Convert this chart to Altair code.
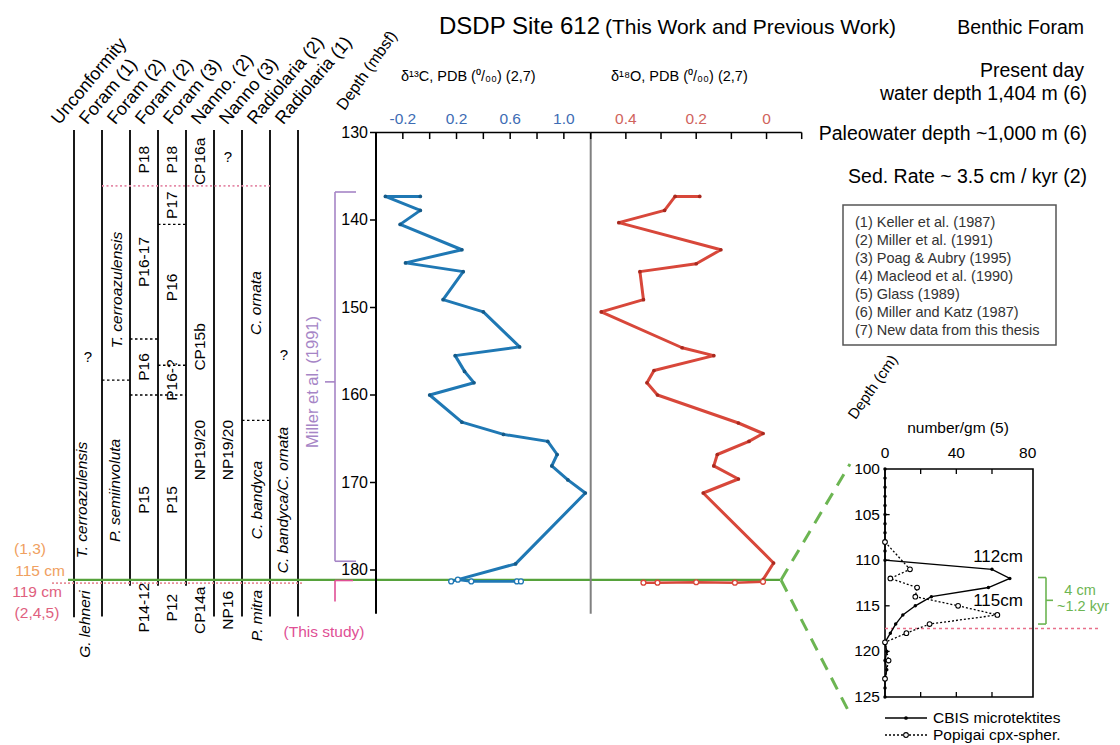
import altair as alt
import pandas as pd

FONT = "Liberation Sans"

BLUE, BLUE_DOT, BLUE_TXT = "#1f78b4", "#155a88", "#3d6cb4"
RED, RED_DOT, RED_TXT = "#d8473a", "#a8291f", "#d0635c"
GREEN, GREEN_DASH = "#56a23b", "#6cb552"
PURPLE, MAGENTA = "#a685c6", "#e04f95"
ORANGE, PINK = "#f0a060", "#e0607e"

# ---------------- benthic foram isotopes, DSDP Site 612 ----------------
c13_depth = [137.3, 137.3, 138.9, 140.5, 143.4, 144.9, 145.9, 149.1, 150.5, 154.5,
             155.5, 157.3, 158.6, 160.0, 163.1, 164.5, 165.3, 166.8, 168.1, 169.7,
             171.2, 179.3, 181.1]
c13_value = [-0.07, -0.33, -0.07, -0.22, 0.24, -0.18, 0.25, 0.10, 0.40, 0.67,
             0.19, 0.26, 0.33, 0.00, 0.24, 0.55, 0.88, 0.95, 0.91, 1.03,
             1.16, 0.64, 0.21]
c13_new_depth = [181.3, 181.1, 181.3, 181.3, 181.3]
c13_new_value = [0.16, 0.21, 0.31, 0.65, 0.68]

o18_depth = [137.3, 137.3, 138.9, 140.3, 143.4, 145.0, 145.9, 149.1, 150.5, 154.6,
             155.5, 157.2, 158.6, 160.0, 163.2, 164.4, 165.3, 166.8, 168.1, 169.6,
             171.2, 179.2, 181.1]
o18_value = [0.19, 0.26, 0.29, 0.42, 0.13, 0.20, 0.36, 0.35, 0.47, 0.24,
             0.15, 0.32, 0.34, 0.31, 0.08, 0.01, 0.05, 0.14, 0.15, 0.08,
             0.18, -0.02, 0.01]
o18_new_depth = [181.45, 181.45, 181.4, 181.45, 181.35]
o18_new_value = [0.35, 0.31, 0.20, 0.09, 0.01]

# ---------------- spherule abundance (number/gm) in the core ----------------
cbis_depth = [100, 101, 102, 103, 104, 105, 106, 107, 108, 109, 110, 111, 112, 113,
              114, 115, 116, 117, 118, 119, 120, 121, 122, 123, 124, 125]
cbis_count = [0, 0, 0, 0, 0, 0, 0, 0, 0, 0, 0, 60, 70, 58,
              26, 17, 10, 6, 3, 0, 1, 0, 1, 0, 0, 0]
popigai_depth = [108, 111, 112, 113, 114, 115, 116, 117, 118, 119, 121, 123]
popigai_count = [0, 14, 3, 18, 17, 41, 63, 25, 12, 0, 2, 0]

# ---------------- biostratigraphy ----------------
col_edge = [0, 1, 2, 3, 4, 5, 6, 7, 8]
col_top = [129.7] * 9
col_bottom = [185.4, 185.3, 181.8, 181.8, 181.8, 185.3, 185.3, 185.3, 185.3]
headers = ["Unconformity", "Foram (1)", "Foram (2)", "Foram (2)", "Foram (3)",
           "Nanno. (2)", "Nanno (3)", "Radiolaria (2)", "Radiolaria (1)"]

zone_text = ["P18", "P16-17", "P16", "P15", "P14-12",
             "P18", "P17", "P16", "P16-?", "P15", "P12",
             "CP16a", "CP15b", "NP19/20", "CP14a",
             "NP19/20", "NP16"]
zone_col = [2.5, 2.5, 2.5, 2.5, 2.5,
            3.5, 3.5, 3.5, 3.5, 3.5, 3.5,
            4.5, 4.5, 4.5, 4.5,
            5.5, 5.5]
zone_depth = [133.1, 144.8, 156.8, 172.0, 184.3,
              133.1, 138.3, 147.7, 158.3, 172.0, 184.3,
              133.3, 154.5, 166.3, 184.6,
              166.3, 184.6]

taxon_text = ["T. cerroazulensis", "G. lehneri", "T. cerroazulensis", "P. semiinvoluta",
              "C. ornata", "C. bandyca", "P. mitra", "C. bandyca/C. ornata"]
taxon_col = [0.28, 0.4, 1.55, 1.45, 6.5, 6.55, 6.55, 7.45]
taxon_depth = [172.0, 186.2, 148.0, 170.9, 149.5, 172.0, 185.2, 172.0]

query_col = [0.5, 5.5, 7.5]
query_depth = [155.7, 132.8, 155.4]

bound_from = [2, 3, 3, 1, 2, 6]
bound_to = [3, 4, 4, 2, 4, 7]
bound_depth = [153.6, 140.5, 156.6, 158.3, 160.0, 162.9]

# ---------------- axes ----------------
depth_ticks = [130, 140, 150, 160, 170, 180]
c13_ticks = [-0.4, -0.2, 0.0, 0.2, 0.4, 0.6, 0.8, 1.0, 1.2]
c13_labels = [-0.2, 0.2, 0.6, 1.0]
c13_label_text = ["-0.2", "0.2", "0.6", "1.0"]
o18_ticks = [0.4, 0.3, 0.2, 0.1, 0.0, -0.1]
o18_labels = [0.4, 0.2, 0.0]
o18_label_text = ["0.4", "0.2", "0"]
inset_x_ticks = [20, 40, 60]
inset_x_labels = [0, 40, 80]
inset_y_ticks = [105, 110, 115, 120]
inset_y_labels = [100, 105, 110, 115, 120, 125]

references = ["(1) Keller et al. (1987)", "(2) Miller et al. (1991)", "(3) Poag & Aubry (1995)",
              "(4) Macleod et al. (1990)", "(5) Glass (1989)", "(6) Miller and Katz (1987)",
              "(7) New data from this thesis"]

# ---------------- scales ----------------
DEPTH = alt.Scale(domain=[130, 185], range=[132.5, 613.75], nice=False, zero=False)
C13 = alt.Scale(domain=[-0.4, 1.2], range=[376, 590.7], nice=False, zero=False)
O18 = alt.Scale(domain=[0.5, -0.1], range=[590.7, 801.7], nice=False, zero=False)
COLX = alt.Scale(domain=[0, 8], range=[74, 298], nice=False, zero=False)
IN_X = alt.Scale(domain=[0, 83], range=[885, 1033], nice=False, zero=False)
IN_Y = alt.Scale(domain=[100, 125], range=[469, 697], nice=False, zero=False)
REF_Y = alt.Scale(domain=[0, 6], range=[223, 331], nice=False, zero=False)


def xq(f, s):
    return alt.X(f, type="quantitative", scale=s, axis=None)


def yq(f, s):
    return alt.Y(f, type="quantitative", scale=s, axis=None)


def label(txt, x, y, size=16, color="black", align="left", baseline="middle",
          angle=None, italic=False):
    props = dict(align=align, baseline=baseline, fontSize=size, color=color, font=FONT)
    if angle is not None:
        props["angle"] = angle
    if italic:
        props["fontStyle"] = "italic"
    return alt.Chart(pd.DataFrame({"t": [txt]})).mark_text(**props).encode(
        text="t:N", x=alt.value(x), y=alt.value(y))


def hrule(depths, x0, x1, scale, color, width=1.5, dash=None):
    props = dict(color=color, strokeWidth=width)
    if dash:
        props["strokeDash"] = dash
    return alt.Chart(pd.DataFrame({"d": depths})).mark_rule(**props).encode(
        x=alt.value(x0), x2=alt.value(x1), y=yq("d", scale))


def vrule(x, d0, d1, scale, color, width=1.5):
    return alt.Chart(pd.DataFrame({"a": [d0], "b": [d1]})).mark_rule(
        color=color, strokeWidth=width).encode(x=alt.value(x), y=yq("a", scale), y2="b")


layers = []

# ---------- titles and notes ----------
layers += [
    label("DSDP Site 612", 439, 27, size=24),
    label("(This Work and Previous Work)", 605, 28, size=21),
    label("Benthic Foram", 1084, 28, size=19.5, align="right"),
    label("Present day", 1084, 71, size=19.5, align="right"),
    label("water depth 1,404 m (6)", 1087, 94, size=19.5, align="right"),
    label("Paleowater depth ~1,000 m (6)", 1087, 134, size=19.5, align="right"),
    label("Sed. Rate ~ 3.5 cm / kyr (2)", 1087, 177, size=19.5, align="right"),
    label("δ¹³C, PDB (⁰/₀₀) (2,7)", 401, 77, size=14.5),
    label("δ¹⁸O, PDB (⁰/₀₀) (2,7)", 611, 77, size=14.5),
    label("Depth (mbsf)", 347, 113, size=16, angle=305, baseline="bottom"),
]

# reference box
layers.append(alt.Chart(pd.DataFrame({"k": [0]})).mark_rect(
    fillOpacity=0, stroke="#555555", strokeWidth=1.5).encode(
    x=alt.value(843), x2=alt.value(1056), y=alt.value(205), y2=alt.value(345)))
layers.append(alt.Chart(pd.DataFrame({"t": references, "k": list(range(7))})).mark_text(
    align="left", baseline="middle", fontSize=14.5, font=FONT, color="#333333").encode(
    text="t:N", x=alt.value(855), y=yq("k", REF_Y)))

# ---------- biostratigraphic columns ----------
head_df = pd.DataFrame({"t": headers, "c": [e - 0.42 for e in col_edge]})
layers.append(alt.Chart(head_df).mark_text(
    angle=310, align="left", baseline="bottom", fontSize=18, font=FONT).encode(
    text="t:N", x=xq("c", COLX), y=alt.value(128)))

layers.append(alt.Chart(pd.DataFrame({"c": col_edge, "a": col_top, "b": col_bottom}))
              .mark_rule(color="black", strokeWidth=1.8)
              .encode(x=xq("c", COLX), y=yq("a", DEPTH), y2="b"))
layers.append(alt.Chart(pd.DataFrame({"c0": bound_from, "c1": bound_to, "d": bound_depth}))
              .mark_rule(color="black", strokeWidth=1.4, strokeDash=[2.5, 2.5])
              .encode(x=xq("c0", COLX), x2="c1", y=yq("d", DEPTH)))
layers.append(alt.Chart(pd.DataFrame({"c0": [1], "c1": [7], "d": [136.1]}))
              .mark_rule(color="#e58aa8", strokeWidth=1.6, strokeDash=[2, 2.5])
              .encode(x=xq("c0", COLX), x2="c1", y=yq("d", DEPTH)))

layers.append(alt.Chart(pd.DataFrame({"t": zone_text, "c": zone_col, "d": zone_depth}))
              .mark_text(angle=270, fontSize=15.5, font=FONT)
              .encode(text="t:N", x=xq("c", COLX), y=yq("d", DEPTH)))
layers.append(alt.Chart(pd.DataFrame({"t": taxon_text, "c": taxon_col, "d": taxon_depth}))
              .mark_text(angle=270, fontSize=15.5, font=FONT, fontStyle="italic")
              .encode(text="t:N", x=xq("c", COLX), y=yq("d", DEPTH)))
layers.append(alt.Chart(pd.DataFrame({"t": ["?"] * 3, "c": query_col, "d": query_depth}))
              .mark_text(fontSize=15, font=FONT)
              .encode(text="t:N", x=xq("c", COLX), y=yq("d", DEPTH)))

# impact horizon (115 cm / 119 cm)
layers += [
    label("(1,3)", 30, 549, size=15.5, color=ORANGE, align="center"),
    label("115 cm", 40, 571, size=15.5, color=ORANGE, align="center"),
    label("119 cm", 37, 592, size=15.5, color=PINK, align="center"),
    label("(2,4,5)", 37, 613, size=15.5, color=PINK, align="center"),
]
layers.append(hrule([181.5], 52, 303, DEPTH, "#e8909a", 1.6, [2, 2]))
layers.append(hrule([181.14], 68, 780, DEPTH, GREEN, 2.2))

# Miller et al. bracket and this study
layers += [
    vrule(335, 136.8, 179.0, DEPTH, PURPLE, 1.6),
    hrule([136.8, 179.0], 335, 356, DEPTH, PURPLE, 1.6),
    hrule([158.5], 325, 335, DEPTH, PURPLE, 1.6),
    label("Miller et al. (1991)", 313, 382, size=16.5, color=PURPLE, align="center", angle=270),
    vrule(335, 181.2, 183.6, DEPTH, MAGENTA, 1.6),
    hrule([181.2], 335, 353, DEPTH, MAGENTA, 1.6),
    label("(This study)", 324, 632, size=15.5, color=MAGENTA, align="center"),
]

# ---------- depth axis and isotope axes ----------
layers.append(alt.Chart(pd.DataFrame({"v": [-0.4], "a": [130], "b": [185]}))
              .mark_rule(color="black", strokeWidth=2)
              .encode(x=xq("v", C13), y=yq("a", DEPTH), y2="b"))
layers.append(alt.Chart(pd.DataFrame({"v": [0.5], "a": [130], "b": [185]}))
              .mark_rule(color="#808080", strokeWidth=2)
              .encode(x=xq("v", O18), y=yq("a", DEPTH), y2="b"))
layers.append(hrule(depth_ticks, 370, 376, DEPTH, "black", 1.5))
layers.append(alt.Chart(pd.DataFrame({"d": depth_ticks})).mark_text(
    align="right", baseline="middle", fontSize=16, font=FONT).encode(
    text="d:Q", x=alt.value(368), y=yq("d", DEPTH)))

for scale, lo, hi, ticks, labs, texts, col in [
        (C13, -0.4, 1.2, c13_ticks, c13_labels, c13_label_text, BLUE_TXT),
        (O18, 0.5, -0.1, o18_ticks, o18_labels, o18_label_text, RED_TXT)]:
    layers.append(alt.Chart(pd.DataFrame({"a": [lo], "b": [hi], "d": [130]}))
                  .mark_rule(color="black", strokeWidth=1.5)
                  .encode(x=xq("a", scale), x2="b", y=yq("d", DEPTH)))
    layers.append(alt.Chart(pd.DataFrame({"v": ticks, "a": [130] * len(ticks),
                                          "b": [130.75] * len(ticks)}))
                  .mark_rule(color="black", strokeWidth=1.5)
                  .encode(x=xq("v", scale), y=yq("a", DEPTH), y2="b"))
    layers.append(alt.Chart(pd.DataFrame({"v": labs, "t": texts})).mark_text(
        baseline="middle", fontSize=15.5, font=FONT, color=col).encode(
        text="t:N", x=xq("v", scale), y=alt.value(119)))

# ---------- isotope curves ----------
for dep, val, ndep, nval, scale, line_c, dot_c in [
        (c13_depth, c13_value, c13_new_depth, c13_new_value, C13, BLUE, BLUE_DOT),
        (o18_depth, o18_value, o18_new_depth, o18_new_value, O18, RED, RED_DOT)]:
    df = pd.DataFrame({"d": dep, "v": val, "i": list(range(len(dep)))})
    layers.append(alt.Chart(df).mark_line(color=line_c, strokeWidth=3, strokeJoin="round")
                  .encode(x=xq("v", scale), y=yq("d", DEPTH), order="i:Q"))
    layers.append(alt.Chart(df).mark_circle(color=dot_c, size=14, opacity=1)
                  .encode(x=xq("v", scale), y=yq("d", DEPTH)))
    ndf = pd.DataFrame({"d": ndep, "v": nval})
    layers.append(alt.Chart(ndf).mark_line(color=line_c, strokeWidth=2.6)
                  .encode(x=xq("v", scale), y=yq("d", DEPTH), order="v:Q"))
    layers.append(alt.Chart(ndf).mark_point(shape="circle", size=24, filled=True, fill="white",
                                            stroke=line_c, strokeWidth=1.3, opacity=1)
                  .encode(x=xq("v", scale), y=yq("d", DEPTH)))

# ---------- inset: spherules across the impact layer ----------
layers += [
    alt.Chart(pd.DataFrame({"k": [0]})).mark_rule(color=GREEN_DASH, strokeWidth=3, strokeDash=[13, 9])
    .encode(x=alt.value(781), y=alt.value(580), x2=alt.value(850), y2=alt.value(464)),
    alt.Chart(pd.DataFrame({"k": [0]})).mark_rule(color=GREEN_DASH, strokeWidth=3, strokeDash=[13, 9])
    .encode(x=alt.value(781), y=alt.value(580), x2=alt.value(850), y2=alt.value(714)),
]
layers.append(alt.Chart(pd.DataFrame({"a": [0], "b": [83], "c": [100], "e": [125]}))
              .mark_rect(fillOpacity=0, stroke="black", strokeWidth=1.6)
              .encode(x=xq("a", IN_X), x2="b", y=yq("c", IN_Y), y2="e"))
layers.append(alt.Chart(pd.DataFrame({"v": inset_x_ticks * 2,
                                      "a": [100] * 3 + [125] * 3,
                                      "b": [100.55] * 3 + [124.45] * 3}))
              .mark_rule(color="black", strokeWidth=1.3)
              .encode(x=xq("v", IN_X), y=yq("a", IN_Y), y2="b"))
layers.append(alt.Chart(pd.DataFrame({"d": inset_y_ticks, "a": [0] * 4, "b": [2.6] * 4}))
              .mark_rule(color="black", strokeWidth=1.3)
              .encode(x=xq("a", IN_X), x2="b", y=yq("d", IN_Y)))
layers.append(alt.Chart(pd.DataFrame({"v": inset_x_labels})).mark_text(
    baseline="middle", fontSize=15.5, font=FONT).encode(
    text="v:Q", x=xq("v", IN_X), y=alt.value(453)))
layers.append(alt.Chart(pd.DataFrame({"d": inset_y_labels})).mark_text(
    align="right", baseline="middle", fontSize=15.5, font=FONT).encode(
    text="d:Q", x=alt.value(880), y=yq("d", IN_Y)))
layers.append(alt.Chart(pd.DataFrame({"d": [117.5], "a": [0], "b": [121]}))
              .mark_rule(color="#e8708a", strokeWidth=1.5, strokeDash=[3, 3])
              .encode(x=xq("a", IN_X), x2="b", y=yq("d", IN_Y)))

cb = pd.DataFrame({"d": cbis_depth, "n": cbis_count, "i": list(range(len(cbis_depth)))})
pp = pd.DataFrame({"d": popigai_depth, "n": popigai_count, "i": list(range(len(popigai_depth)))})
layers += [
    alt.Chart(cb).mark_line(color="black", strokeWidth=1.4)
    .encode(x=xq("n", IN_X), y=yq("d", IN_Y), order="i:Q"),
    alt.Chart(cb).mark_circle(color="black", size=12, opacity=1)
    .encode(x=xq("n", IN_X), y=yq("d", IN_Y)),
    alt.Chart(pp).mark_line(color="black", strokeWidth=1.3, strokeDash=[2, 2])
    .encode(x=xq("n", IN_X), y=yq("d", IN_Y), order="i:Q"),
    alt.Chart(pp).mark_point(shape="circle", size=22, filled=True, fill="white",
                             stroke="black", strokeWidth=1.1, opacity=1)
    .encode(x=xq("n", IN_X), y=yq("d", IN_Y)),
]

layers += [
    label("Depth (cm)", 858, 422, size=15, angle=305, baseline="bottom"),
    label("number/gm (5)", 958, 428, size=15.5, align="center"),
    label("112cm", 998, 557, size=17, align="center"),
    label("115cm", 998, 601, size=17, align="center"),
    vrule(1046, 111.9, 117.0, IN_Y, GREEN_DASH, 1.6),
    hrule([111.9, 117.0], 1038, 1046, IN_Y, GREEN_DASH, 1.6),
    hrule([114.4], 1046, 1053, IN_Y, GREEN_DASH, 1.6),
    label("4 cm", 1080, 591, size=14.5, color=GREEN_DASH, align="center"),
    label("~1.2 kyr", 1083, 607, size=14.5, color=GREEN_DASH, align="center"),
]

# inset legend
leg = pd.DataFrame({"k": [0]})
layers += [
    alt.Chart(leg).mark_rule(color="black", strokeWidth=1.4)
    .encode(x=alt.value(885), x2=alt.value(927), y=alt.value(718)),
    alt.Chart(leg).mark_circle(color="black", size=14, opacity=1)
    .encode(x=alt.value(906), y=alt.value(718)),
    label("CBIS microtektites", 933, 718, size=15.5),
    alt.Chart(leg).mark_rule(color="black", strokeWidth=1.3, strokeDash=[2, 2])
    .encode(x=alt.value(885), x2=alt.value(927), y=alt.value(735)),
    alt.Chart(leg).mark_point(shape="circle", size=22, filled=True, fill="white",
                              stroke="black", strokeWidth=1.1, opacity=1)
    .encode(x=alt.value(906), y=alt.value(735)),
    label("Popigai  cpx-spher.", 933, 735, size=15.5),
]

chart = (alt.layer(*layers)
         .resolve_scale(x="independent", y="independent")
         .properties(width=1120, height=745, autosize=alt.AutoSizeParams(type="none"),
                     padding=0, background="white")
         .configure_view(stroke=None))

chart.save("out.html", embed_options={"renderer": "svg", "actions": False})
